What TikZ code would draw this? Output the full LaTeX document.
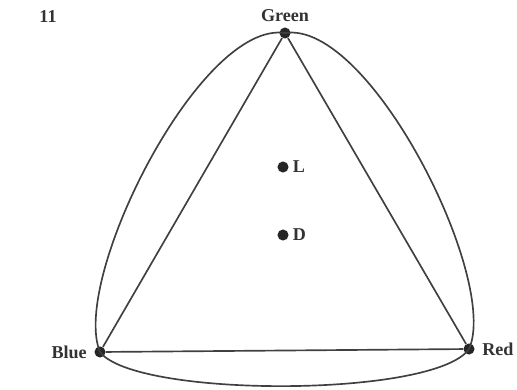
\documentclass[tikz,border=0pt]{standalone}
\usepackage{fontspec}
\setmainfont{Liberation Serif}
\usetikzlibrary{positioning}

\begin{document}
\begin{tikzpicture}[
            x=0.02cm, y=-0.02cm,
            vertex/.style={
                    circle,
                    fill=black!85,
                    inner sep=0pt,
                    minimum size=6.3pt
                },
            tag/.style={
                    font=\bfseries\fontsize{10.3}{12}\selectfont,
                    text=black!80,
                    inner sep=1pt
                },
            line/.style={
                    draw=black!75,
                    line width=0.95pt
                }
        ]
        \useasboundingbox (0,0) rectangle (517,389);

        % Nodes
        \node [vertex] (green) at (285,33) {};
        \node [vertex] (blue) at (100,352) {};
        \node [vertex] (red) at (469,349) {};
        \node [vertex] (l) at (283,167) {};
        \node [vertex] (d) at (283,235) {};

        % Labels
        \node [tag] (fig) at (48,17) {11};
        \node [tag, above=2pt of green] (greenlbl) {Green};
        \node [tag, left=3pt of blue] (bluelbl) {Blue};
        \node [tag, right=3pt of red] (redlbl) {Red};
        \node [tag, right=1pt of l] (llbl) {L};
        \node [tag, right=1pt of d] (dlbl) {D};

        % Triangle
        \path [line] (green) -- (blue) -- (red) -- (green);

        % Outer arcs
        \path [line] (green.center) .. controls (200,20) and (70,280) .. (blue.center);
        \path [line] (green.center) .. controls (370,20) and (500,280) .. (red.center);
        \path [line] (blue.center) .. controls (135,398) and (435,398) .. (red.center);
    \end{tikzpicture}
\end{document}
